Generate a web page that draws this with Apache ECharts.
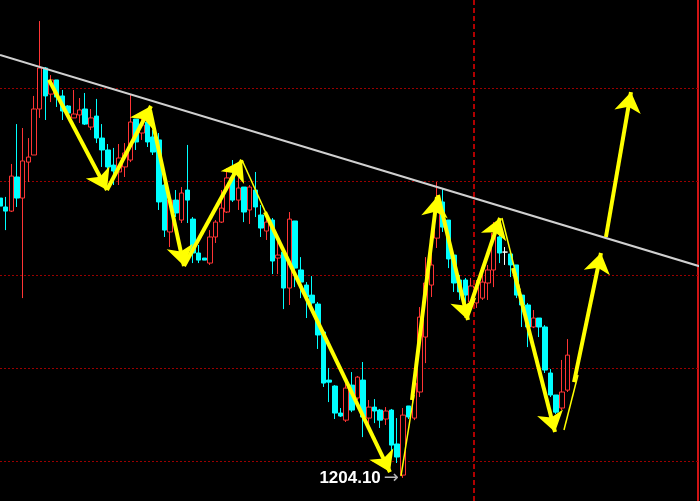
<!DOCTYPE html>
<html>
<head>
<meta charset="utf-8">
<script src="https://cdn.jsdelivr.net/npm/echarts@6/dist/echarts.min.js"></script>
<style>
html,body{margin:0;padding:0;background:#000;}
#chart{width:700px;height:501px;}
</style>
</head>
<body>
<div id="chart"></div>
<script>
// ---- data ----
const slotCount = 124;
const categories = Array.from({length: slotCount}, (_, i) => 'K' + i);

const opens = [1219.12,1218.64,1218.42,1220.25,1219.12,1221.05,1221.43,1223.90,1226.10,1224.70,
1225.46,1224.60,1224.06,1223.42,1223.58,1223.90,1222.93,1223.52,1222.34,1221.70,
1220.89,1220.52,1220.79,1221.16,1223.36,1222.61,1223.20,1222.40,1222.24,1219.82,
1217.30,1219.01,1217.94,1219.55,1217.99,1216.17,1215.90,1215.63,1217.03,1217.83,
1218.37,1220.25,1219.01,1219.71,1218.48,1219.55,1218.21,1217.35,1217.94,1215.90,
1216.22,1214.29,1217.89,1215.26,1214.45,1213.91,1213.43,1211.93,1209.35,1209.03,
1207.58,1207.20,1209.08,1208.39,1209.35,1207.31,1207.90,1207.74,1207.26,1207.74,
1205.92,1204.25,1207.96,1207.31,1208.71,1211.66,1214.45,1216.97,1218.91,1217.94,
1216.06,1214.72,1214.72,1213.54,1213.49,1213.75,1214.56,1215.26,1217.03,1216.22,
1216.12,1215.53,1213.91,1213.38,1212.20,1212.68,1212.20,1209.73,1208.55,1207.85,
1208.81];
const closes = [1218.69,1218.42,1220.30,1219.12,1221.11,1221.32,1223.90,1226.10,1224.60,1225.46,
1224.54,1223.79,1223.68,1223.63,1223.85,1223.09,1223.42,1222.34,1221.70,1220.79,
1220.57,1221.27,1221.54,1223.20,1222.13,1223.04,1222.13,1221.59,1218.91,1217.40,
1219.01,1218.32,1219.39,1219.01,1216.17,1215.79,1215.79,1217.03,1217.83,1218.58,
1220.20,1219.01,1219.66,1218.37,1219.71,1218.64,1217.51,1217.83,1215.74,1216.06,
1214.29,1217.99,1215.36,1214.61,1213.81,1213.49,1211.77,1209.19,1209.24,1207.58,
1207.42,1208.92,1207.74,1209.51,1207.37,1207.90,1207.69,1207.20,1207.69,1205.86,
1205.22,1207.47,1207.37,1209.19,1212.73,1214.56,1215.53,1218.85,1217.56,1215.85,
1214.56,1214.08,1213.91,1214.40,1214.34,1214.61,1215.26,1217.24,1216.17,1216.22,
1215.53,1213.91,1213.38,1212.20,1212.68,1212.20,1209.89,1208.55,1207.63,1208.71,
1210.69];
const lows = [1218.37,1217.40,1218.37,1218.64,1213.75,1219.98,1221.43,1223.42,1223.31,1224.27,
1224.01,1223.31,1223.63,1223.42,1223.15,1223.04,1222.77,1222.07,1220.79,1220.57,
1219.82,1219.82,1220.25,1221.05,1221.70,1222.24,1221.86,1221.43,1218.48,1217.03,
1216.49,1218.10,1217.78,1217.78,1215.63,1215.63,1215.79,1215.53,1216.71,1217.78,
1218.32,1218.91,1218.48,1217.83,1217.73,1218.10,1217.03,1216.87,1215.04,1215.04,
1213.16,1213.38,1214.34,1213.75,1212.68,1213.38,1211.02,1208.98,1208.17,1207.26,
1207.37,1207.10,1207.63,1208.28,1206.29,1206.83,1207.04,1206.78,1206.94,1205.22,
1204.90,1204.10,1207.26,1207.20,1208.44,1210.26,1213.81,1216.44,1217.30,1215.36,
1214.08,1213.65,1213.38,1213.11,1213.22,1213.65,1213.65,1214.34,1215.63,1215.53,
1214.88,1213.75,1212.20,1211.12,1212.14,1211.66,1209.73,1208.44,1207.53,1207.74,
1208.71];
const highs = [1219.44,1219.18,1220.95,1223.09,1222.88,1222.34,1224.60,1228.62,1226.15,1225.72,
1225.46,1224.92,1224.11,1224.92,1224.49,1224.76,1223.90,1224.44,1223.09,1222.02,
1221.81,1222.02,1222.07,1224.65,1223.36,1223.68,1223.68,1222.77,1222.61,1220.09,
1219.39,1219.55,1219.71,1221.97,1218.10,1216.60,1215.90,1217.40,1217.94,1219.55,
1220.73,1221.16,1220.25,1219.71,1219.82,1220.52,1218.75,1218.32,1218.05,1216.87,
1216.33,1218.37,1217.89,1215.95,1214.61,1214.93,1213.54,1212.04,1210.00,1209.08,
1207.85,1209.19,1209.78,1209.57,1210.32,1208.28,1208.33,1207.80,1207.90,1207.80,
1207.31,1207.85,1207.96,1209.89,1213.27,1215.95,1217.24,1219.98,1219.66,1217.94,
1216.17,1214.99,1214.83,1214.83,1214.72,1215.10,1215.53,1217.83,1217.40,1216.49,
1216.12,1215.53,1213.91,1213.49,1213.11,1212.68,1212.30,1209.94,1208.55,1210.43,
1211.55];

// visible price window and horizontal grid levels
const yMin = 1202.86, yMax = 1229.75;
const gridLevels = [1205, 1210, 1215, 1220, 1225];

// annotations, in (bar index, price)
const trendLine = [[0, 1226.80], [123.35, 1215.45]];
const crossLineX = 83.40;
const lowLabel = '1204.10';
const thickArrows = [
  [[8.63, 1225.46], [18.85, 1219.55]],
  [[18.85, 1219.55], [26.61, 1224.06]],
  [[26.43, 1223.85], [32.42, 1215.47]],
  [[32.42, 1215.47], [42.64, 1221.16]],
  [[46.70, 1218.37], [68.72, 1204.41]],
  [[72.60, 1208.28], [77.00, 1219.18]],
  [[77.18, 1219.28], [82.47, 1212.57]],
  [[82.11, 1212.68], [88.11, 1218.05]],
  [[90.40, 1215.36], [97.80, 1206.56]],
  [[101.15, 1209.24], [105.90, 1216.17]],
  [[106.78, 1217.03], [111.19, 1224.81]]
];
const thinLines = [
  [[42.64, 1221.16], [47.58, 1217.83]],
  [[70.66, 1204.20], [72.95, 1208.55]],
  [[88.46, 1218.05], [91.63, 1214.18]],
  [[99.38, 1206.67], [101.85, 1209.62]]
];

// ---- chart ----
const candles = opens.map((o, i) => [o, closes[i], lows[i], highs[i]]);
let lowIdx = 0;
lows.forEach((v, i) => { if (v < lows[lowIdx]) lowIdx = i; });

const chart = echarts.init(document.getElementById('chart'), null, {renderer: 'canvas'});
chart.setOption({
  backgroundColor: '#000000',
  animation: false,
  grid: {left: 0, right: 2, top: 0, bottom: 0},
  xAxis: [
    {type: 'category', data: categories, boundaryGap: false, show: false},
    {type: 'value', min: 0, max: slotCount - 1, show: false}
  ],
  yAxis: {
    type: 'value', position: 'right', min: yMin, max: yMax,
    axisLine: {show: true, onZero: false, lineStyle: {color: '#d01515', width: 2}},
    axisTick: {show: false},
    axisLabel: {show: false},
    splitLine: {show: false}
  },
  series: [
    {
      type: 'lines', coordinateSystem: 'cartesian2d', xAxisIndex: 1, yAxisIndex: 0,
      z: 1, silent: true,
      lineStyle: {color: '#9a0000', width: 1, type: [2, 2], opacity: 1},
      data: gridLevels.map(v => ({coords: [[0, v], [slotCount - 1, v]]}))
    },
    {
      type: 'candlestick',
      xAxisIndex: 0,
      z: 2,
      data: candles,
      barWidth: 5,
      itemStyle: {
        color: '#000000', color0: '#00ffff',
        borderColor: '#ff3535', borderColor0: '#00ffff',
        borderColorDoji: '#ffffff', borderWidth: 1
      },
      markPoint: {
        symbol: 'circle', symbolSize: 0,
        data: [{coord: [categories[lowIdx], lows[lowIdx]], value: lowLabel}],
        label: {
          show: true, position: 'left', distance: 4,
          formatter: '{a|{c}}{b|→}',
          rich: {
            a: {color: '#ffffff', fontSize: 17, fontWeight: 'bold', fontFamily: 'Liberation Sans, Arial, sans-serif'},
            b: {color: '#b8b8b8', fontSize: 18, fontFamily: 'DejaVu Sans, sans-serif', padding: [0, 0, 0, 3]}
          }
        }
      }
    },
    {
      type: 'lines', coordinateSystem: 'cartesian2d', xAxisIndex: 1, yAxisIndex: 0,
      z: 3, silent: true,
      lineStyle: {color: '#b00000', width: 2, type: [5, 3], opacity: 1},
      data: [{coords: [[crossLineX, yMin], [crossLineX, yMax]]}]
    },
    {
      type: 'lines', coordinateSystem: 'cartesian2d', xAxisIndex: 1, yAxisIndex: 0,
      z: 4, silent: true,
      lineStyle: {color: '#d0d0d0', width: 2, opacity: 1},
      data: [{coords: trendLine}]
    },
    {
      type: 'lines', coordinateSystem: 'cartesian2d', xAxisIndex: 1, yAxisIndex: 0,
      z: 5, silent: true,
      lineStyle: {color: '#ffff00', width: 1.5, opacity: 1},
      data: thinLines.map(c => ({coords: c}))
    },
    {
      type: 'lines', coordinateSystem: 'cartesian2d', xAxisIndex: 1, yAxisIndex: 0,
      z: 6, silent: true,
      symbol: ['none', 'arrow'], symbolSize: [14, 20],
      lineStyle: {color: '#ffff00', width: 4, opacity: 1},
      itemStyle: {color: '#ffff00'},
      data: thickArrows.map(c => ({coords: c}))
    }
  ]
});
</script>
</body>
</html>
